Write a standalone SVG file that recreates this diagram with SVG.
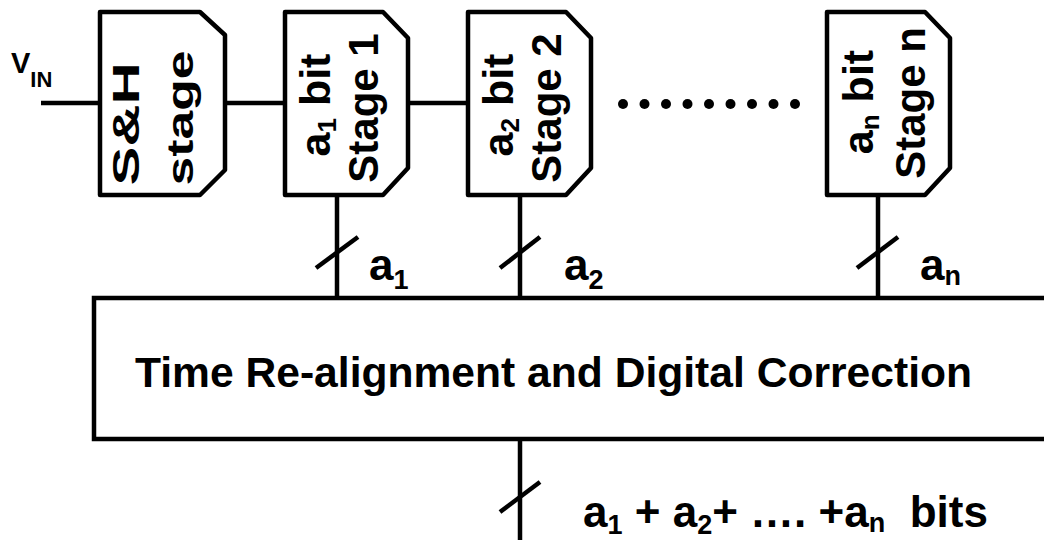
<svg xmlns="http://www.w3.org/2000/svg" width="1044" height="540" viewBox="0 0 1044 540">
  <style>
    .blk { fill: #fff; stroke: #000; stroke-width: 4.5; stroke-linejoin: round; }
    .wire { fill: none; stroke: #000; stroke-width: 4.5; }
    .tick { fill: none; stroke: #000; stroke-width: 4.5; }
    .t { font-family: "Liberation Sans", Arial, sans-serif; font-weight: bold; fill: #000; }
  </style>
  <rect width="1044" height="540" fill="#fff"/>

  <!-- wires and buses -->
  <g id="connectors">
    <line class="wire" x1="41" y1="103" x2="100" y2="103"/>
    <line class="wire" x1="225" y1="103" x2="285" y2="103"/>
    <line class="wire" x1="408" y1="103" x2="468" y2="103"/>
    <line class="wire" x1="337" y1="195" x2="337" y2="298"/>
    <line class="wire" x1="520" y1="195" x2="520" y2="298"/>
    <line class="wire" x1="878" y1="195" x2="878" y2="298"/>
    <line class="wire" x1="520" y1="439" x2="520" y2="540"/>
    <!-- bus-width ticks -->
    <line class="tick" x1="316" y1="268" x2="358" y2="237"/>
    <line class="tick" x1="500" y1="268" x2="540" y2="237"/>
    <line class="tick" x1="857" y1="268" x2="898" y2="237"/>
    <line class="tick" x1="500" y1="512" x2="540" y2="482"/>
    <!-- ellipsis between stage 2 and stage n -->
    <g fill="#000">
      <circle cx="623" cy="104" r="5"/>
      <circle cx="644.5" cy="104" r="5"/>
      <circle cx="666" cy="104" r="5"/>
      <circle cx="687.5" cy="104" r="5"/>
      <circle cx="709" cy="104" r="5"/>
      <circle cx="730.5" cy="104" r="5"/>
      <circle cx="752" cy="104" r="5"/>
      <circle cx="773.5" cy="104" r="5"/>
      <circle cx="795" cy="104" r="5"/>
    </g>
  </g>

  <!-- input label -->
  <g id="vin">
    <text class="t" x="11" y="73" font-size="29">V<tspan font-size="22" dy="14">IN</tspan></text>
  </g>

  <!-- sample and hold -->
  <g id="sh">
    <path class="blk" d="M100,12 H200 L225,35 V170 L200,195 H100 Z"/>
    <text class="t" font-size="37" text-anchor="middle" transform="translate(139,124) rotate(-90)" textLength="123" lengthAdjust="spacingAndGlyphs">S&amp;H</text>
    <text class="t" font-size="37" text-anchor="middle" transform="translate(193,118) rotate(-90)" textLength="135" lengthAdjust="spacingAndGlyphs">stage</text>
  </g>

  <!-- stage 1 -->
  <g id="stage1">
    <path class="blk" d="M285,12 H383 L408,38 V168 L383,195 H285 Z"/>
    <text class="t" font-size="43" text-anchor="middle" transform="translate(330,105) rotate(-90)">a<tspan font-size="26" dy="6">1</tspan><tspan dy="-6"> bit</tspan></text>
    <text class="t" font-size="42" text-anchor="middle" transform="translate(378,108) rotate(-90)">Stage 1</text>
  </g>

  <!-- stage 2 -->
  <g id="stage2">
    <path class="blk" d="M468,12 H566 L591,38 V168 L566,195 H468 Z"/>
    <text class="t" font-size="43" text-anchor="middle" transform="translate(513,105) rotate(-90)">a<tspan font-size="26" dy="6">2</tspan><tspan dy="-6"> bit</tspan></text>
    <text class="t" font-size="42" text-anchor="middle" transform="translate(561,108) rotate(-90)">Stage 2</text>
  </g>

  <!-- stage n -->
  <g id="stagen">
    <path class="blk" d="M827,12 H925 L950,38 V168 L925,195 H827 Z"/>
    <text class="t" font-size="43" text-anchor="middle" transform="translate(873,102) rotate(-90)">a<tspan font-size="26" dy="6">n</tspan><tspan dy="-6"> bit</tspan></text>
    <text class="t" font-size="42" text-anchor="middle" transform="translate(925,103) rotate(-90)">Stage n</text>
  </g>

  <!-- bus labels -->
  <g id="buslabels">
    <text class="t" x="369" y="280" font-size="44">a<tspan font-size="27" dy="9">1</tspan></text>
    <text class="t" x="564" y="280" font-size="44">a<tspan font-size="27" dy="9">2</tspan></text>
    <text class="t" x="920" y="280" font-size="44">a<tspan font-size="27" dy="5">n</tspan></text>
  </g>

  <!-- correction block -->
  <g id="correction">
    <path class="wire" d="M1046,298 H94 V439 H1046"/>
    <text class="t" x="135" y="387" font-size="42.6">Time Re-alignment and Digital Correction</text>
  </g>

  <!-- output width -->
  <g id="output">
    <text class="t" x="583" y="527" font-size="44" xml:space="preserve">a<tspan font-size="27" dy="7">1</tspan><tspan dy="-7"> + a</tspan><tspan font-size="27" dy="7">2</tspan><tspan dy="-7">+ …. +a</tspan><tspan font-size="27" dy="5">n</tspan><tspan dy="-5">  bits</tspan></text>
  </g>
</svg>
